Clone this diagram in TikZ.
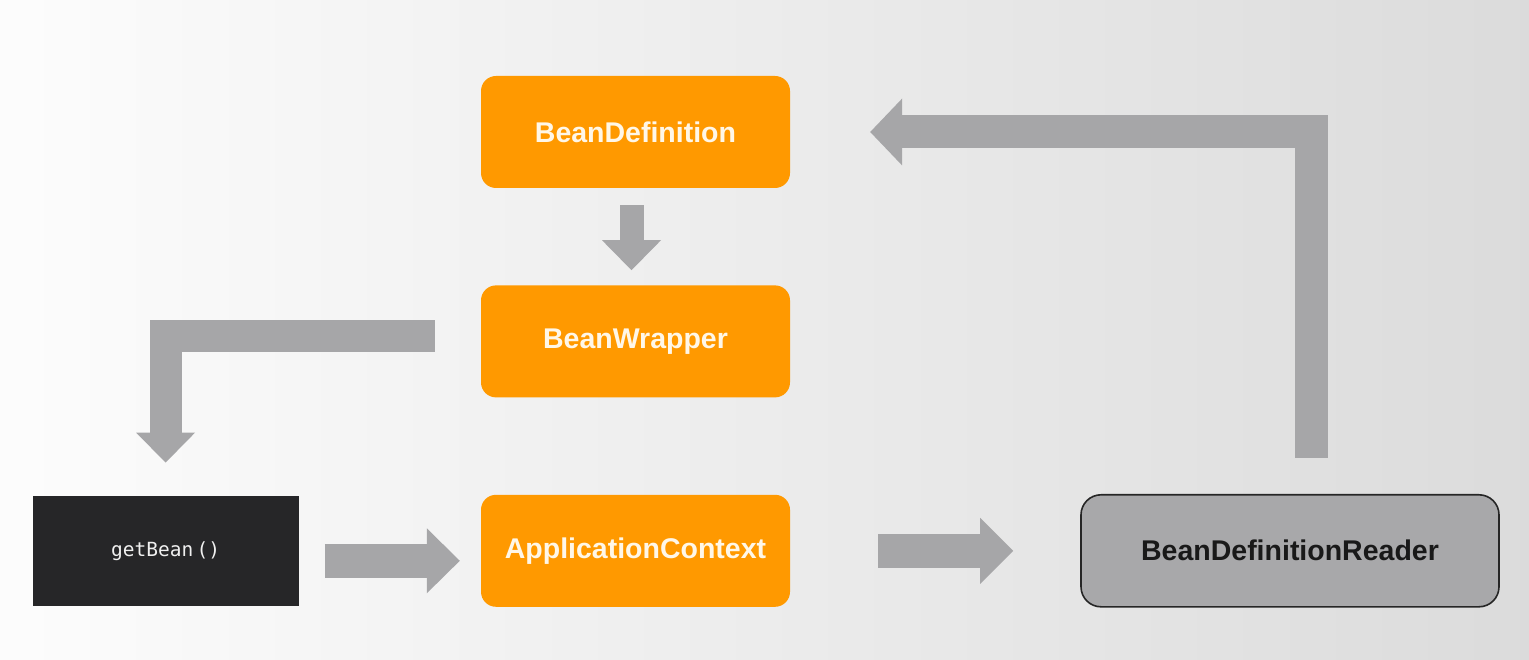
\documentclass[tikz,border=0pt]{standalone}
\usepackage{fontspec}
\setmainfont{Liberation Sans}
\newfontfamily\codefont{DejaVu Sans Mono}
\usetikzlibrary{positioning, arrows.meta}

\definecolor{beanorange}{RGB}{255,153,0}
\definecolor{beantext}{RGB}{255,247,232}
\definecolor{arrowgray}{RGB}{166,166,168}
\definecolor{readergray}{RGB}{168,168,170}
\definecolor{codebg}{RGB}{38,38,40}

\begin{document}
\begin{tikzpicture}[
	x=1pt, y=1pt,
	beanbox/.style={rectangle, rounded corners=15pt, fill=beanorange, text=beantext, minimum width=309pt, minimum height=112pt, font=\fontsize{28.5}{32}\selectfont\bfseries},
	codebox/.style={rectangle, fill=codebg, text=white!88!gray, minimum width=266pt, minimum height=110pt, font=\codefont\fontsize{19.5}{22}\selectfont},
	readerbox/.style={rectangle, rounded corners=20pt, draw=black!85, line width=1.6pt, fill=readergray, text=black!90, minimum width=418pt, minimum height=112pt, font=\fontsize{28.5}{32}\selectfont\bfseries},
	fatarrow/.style={draw=arrowgray, line width=34pt, line join=miter, line cap=butt},
	>=LaTeX
]

% background
\useasboundingbox (0,0) rectangle (1529,659);
\shade[left color=gray!2, middle color=gray!11, right color=gray!28] (0,0) rectangle (1529,659);

\node[beanbox] (beandef) at (635.5,527) {BeanDefinition};
\node[beanbox, below=97pt of beandef] (wrapper) {BeanWrapper};
\node[beanbox, below=97pt of wrapper] (appctx) {ApplicationContext};
\node[codebox, left=182pt of appctx] (getbean) {getBean\,()};
\node[readerbox, right=290pt of appctx] (reader) {BeanDefinitionReader};

\draw[fatarrow, line width=24pt, -{Triangle[width=59pt, length=30pt, line width=0pt]}] ([xshift=-4pt, yshift=-17pt]beandef.south) -- ([xshift=-4pt, yshift=15pt]wrapper.north);
\draw[fatarrow, -{Triangle[width=65pt, length=33pt, line width=0pt]}] ([xshift=26pt, yshift=-10pt]getbean.east) -- ([xshift=-21pt, yshift=-10pt]appctx.west);
\draw[fatarrow, -{Triangle[width=66pt, length=33pt, line width=0pt]}] ([xshift=88pt]appctx.east) -- ([xshift=-67pt]reader.west);

\draw[fatarrow, line width=32pt, -{Triangle[width=59pt, length=30pt, line width=0pt]}] ([xshift=-46pt, yshift=5pt]wrapper.west) -| ([yshift=33pt]getbean.north);
\draw[fatarrow, line width=33pt, -{Triangle[width=67pt, length=32pt, line width=0pt]}] ([xshift=21pt, yshift=36pt]reader.north) |- ([xshift=80pt]beandef.east);

\end{tikzpicture}
\end{document}
